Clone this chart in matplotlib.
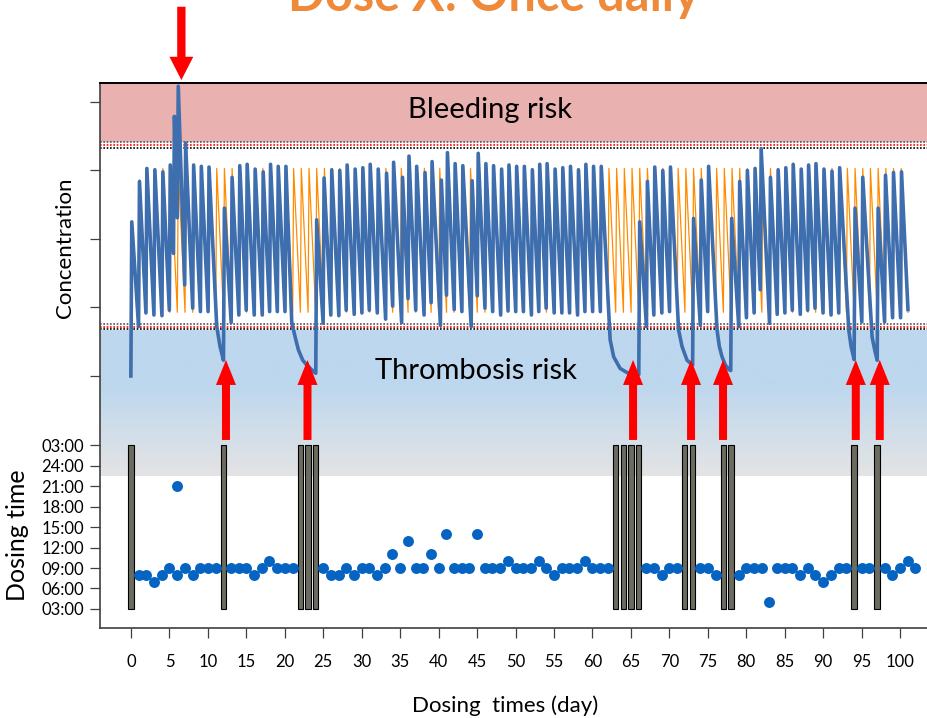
import numpy as np
import matplotlib.pyplot as plt
from matplotlib.patches import FancyArrow

plt.rcParams['font.family'] = ['Lato', 'DejaVu Sans']

####### DATA #######
# every dose taken: study day and clock hour
dose_day = [1, 2, 3, 4, 5, 6, 6, 7, 8, 9, 10, 11,
            13, 14, 15, 16, 17, 18, 19, 20, 21,
            25, 26, 27, 28, 29, 30, 31, 32, 33, 34, 35, 36, 37, 38, 39, 40,
            41, 42, 43, 44, 45, 46, 47, 48, 49, 50, 51, 52, 53, 54, 55, 56,
            57, 58, 59, 60, 61, 62,
            67, 68, 69, 70, 71,
            74, 75, 76,
            79, 80, 81, 82, 83, 84, 85, 86, 87, 88, 89, 90, 91, 92, 93,
            95, 96,
            98, 99, 100, 101, 102]
dose_hour = [8, 8, 7, 8, 9, 8, 21, 9, 8, 9, 9, 9,
             9, 9, 9, 8, 9, 10, 9, 9, 9,
             9, 8, 8, 9, 8, 9, 9, 8, 9, 11, 9, 13, 9, 9, 11, 9,
             14, 9, 9, 9, 14, 9, 9, 9, 10, 9, 9, 9, 10, 9, 8, 9,
             9, 9, 10, 9, 9, 9,
             9, 9, 8, 9, 9,
             9, 9, 8,
             8, 9, 9, 9, 4, 9, 9, 9, 8, 9, 8, 7, 8, 9, 9,
             9, 9,
             9, 8, 9, 10, 9]

# days with no dose
missed_day = [0, 12, 22, 23, 24, 63, 64, 65, 66, 72, 73, 77, 78, 94, 97]

# concentration just before / just after each dose (last dose closes the trace)
trough_conc = [0.00, 0.72, 0.92, 0.89, 0.88, 0.96, 1.79, 2.31, 1.33, 0.99, 0.94, 0.94,
               0.23, 0.78, 0.89, 0.96, 0.89, 0.89, 0.94, 0.94, 0.94,
               0.04, 0.77, 0.89, 0.88, 0.96, 0.90, 0.92, 0.96, 0.92, 0.83, 1.02, 0.78,
               1.13, 0.96, 0.89, 1.07, 0.74, 1.18, 0.97, 0.94, 0.72, 1.17, 0.99, 0.94,
               0.89, 0.95, 0.94, 0.94, 0.89, 0.94, 0.99, 0.92, 0.92, 0.92, 0.89, 0.94,
               0.94, 0.94,
               0.02, 0.72, 0.89, 0.92, 0.94,
               0.16, 0.74, 0.94,
               0.08, 0.72, 0.85, 0.92, 1.26, 0.77, 0.90, 0.92, 0.96, 0.90, 0.96, 0.99,
               0.92, 0.89, 0.92,
               0.24, 0.79,
               0.23, 0.79, 0.85, 0.85]
peak_conc = [2.25, 2.84, 3.03, 3.01, 2.98, 3.08, 3.79, 4.23, 3.40, 3.08, 3.06, 3.05,
             2.45, 2.90, 3.07, 3.09, 3.02, 2.98, 3.09, 3.06, 3.06,
             2.28, 2.89, 3.01, 3.00, 3.08, 3.02, 3.04, 3.09, 3.02, 2.96, 3.12, 2.90,
             3.21, 3.06, 2.97, 3.13, 2.86, 3.26, 3.10, 3.07, 2.85, 3.25, 3.10, 3.07,
             3.02, 3.08, 3.06, 3.06, 3.01, 3.09, 3.10, 3.02, 3.04, 3.06, 3.01, 3.09,
             3.06, 3.06,
             2.25, 2.84, 3.05, 3.00, 3.05,
             2.30, 2.86, 3.06,
             2.30, 2.84, 3.00, 3.03, 3.32, 2.90, 3.01, 3.04, 3.09, 3.02, 3.08, 3.10,
             3.02, 2.99, 3.04,
             2.45, 2.90,
             2.45, 2.93, 2.97, 2.98]
trace_end_conc = 0.97

# decay after missed doses (day + fraction, concentration)
tail_time = [12.50, 12.93,
             22.25, 22.69, 23.12, 23.68, 24.21, 24.85,
             63.65, 64.11, 64.95, 65.85, 66.75,
             72.55, 73.00, 73.65,
             77.55, 77.85, 78.20, 78.63, 79.15,
             94.68, 94.98,
             97.71, 98.05]
tail_conc = [0.72, 0.43,
             0.79, 0.57, 0.38, 0.23, 0.16, 0.09,
             0.53, 0.28, 0.11, 0.05, 0.03,
             0.67, 0.43, 0.23,
             0.67, 0.43, 0.28, 0.16, 0.09,
             0.67, 0.43,
             0.57, 0.38]

# reference regimen: one dose every day at 09:00
ref_day = list(range(1, 103))
ref_trough = [0.00, 0.72] + [0.93] * 99
ref_peak = [2.25, 2.86] + [3.03] * 99
ref_end_conc = 0.93

# arrows flagging missed doses and the overdose peak
alert_day = [12.35, 22.95, 65.28, 72.82, 76.98, 94.24, 97.36]
overdose_day = 6.55

bleed_level = 3.37
thromb_level = 0.72
tick_hours = [3, 6, 9, 12, 15, 18, 21, 24, 27]
tick_hour_labels = ['03:00', '06:00', '09:00', '12:00', '15:00',
                    '18:00', '21:00', '24:00', '03:00']

####### STYLE #######
TRACE_SHIFT = 1.35   # trace is drawn this many days ahead of the dosing log
RISE = 0.12          # absorption time from trough to peak, days
BLUE = '#3E6EAD'
ORANGE = '#FF8C00'
DOT = '#0563C1'


def sawtooth(times, troughs, peaks, end_time, end_conc, extra_t=(), extra_c=()):
    times = np.asarray(times, float) - TRACE_SHIFT
    t = np.concatenate([times, times + RISE, [end_time - TRACE_SHIFT],
                        np.asarray(extra_t, float) - TRACE_SHIFT])
    c = np.concatenate([troughs, peaks, [end_conc], extra_c])
    order = np.argsort(t, kind='stable')
    return t[order], c[order]


fig = plt.figure(figsize=(9.27, 7.18), dpi=100)
rect = [100 / 927, 90 / 718, 827 / 927, 545 / 718]
ax = fig.add_axes(rect)
axd = fig.add_axes(rect)
axd.patch.set_alpha(0)

xlim = (-4.03, 103.5)

####### CONCENTRATION PANEL #######
ax.set_xlim(*xlim)
ax.set_ylim(-3.679, 4.277)

ax.axhspan(bleed_level + 0.05, 4.3, color='#E9B1B0', lw=0, zorder=0)
# thrombosis band fades from blue to grey at its lower edge
grad = np.linspace(0, 1, 200)[:, None]
top_rgb = np.array([0xBD, 0xD7, 0xEE]) / 255
bot_rgb = np.array([0xE4, 0xE4, 0xE4]) / 255
mix = np.clip((grad - 0.38) / 0.62, 0, 1)
img = top_rgb[None, None, :] * (1 - mix[:, :, None]) + bot_rgb[None, None, :] * mix[:, :, None]
ax.imshow(img, extent=(xlim[0], xlim[1], -1.46, thromb_level - 0.055),
          aspect='auto', origin='upper', zorder=0)

for lvl in (bleed_level, thromb_level):
    ax.axhline(lvl + 0.04, color='#555555', lw=1.2, ls=(0, (1, 1)), zorder=1)
    ax.axhline(lvl, color='red', lw=1.2, ls=(0, (1, 1)), zorder=1)
    ax.axhline(lvl - 0.04, color='black', lw=1.2, ls=(0, (1, 1)), zorder=1)

ref_t, ref_c = sawtooth(np.array(ref_day[:-1]) + 9 / 24, ref_trough, ref_peak,
                        ref_day[-1] + 9 / 24, ref_end_conc)
ax.plot(ref_t, ref_c, color=ORANGE, lw=0.9, zorder=2)

dose_time = np.array(dose_day) + np.array(dose_hour) / 24
pt_t, pt_c = sawtooth(dose_time[:-1], trough_conc, peak_conc, dose_time[-1],
                      trace_end_conc, tail_time, tail_conc)
ax.plot(pt_t, pt_c, color=BLUE, lw=2.6, solid_joinstyle='round', zorder=3)

ax.text(46.7, 3.88, 'Bleeding risk', ha='center', va='center', fontsize=21, zorder=4)
ax.text(44.9, 0.07, 'Thrombosis risk', ha='center', va='center', fontsize=21, zorder=4)

for d in alert_day:
    ax.add_patch(FancyArrow(d, -0.934, 0, 1.168, width=1.04, head_width=2.6,
                            head_length=0.365, length_includes_head=True,
                            color='red', lw=0, zorder=5))
ax.add_patch(FancyArrow(overdose_day, 5.39, 0, -1.07, width=1.08, head_width=3.1,
                        head_length=0.34, length_includes_head=True,
                        color='red', lw=0, zorder=5, clip_on=False))

ax.set_yticks([0, 1, 2, 3, 4])
ax.set_yticklabels([])
ax.set_xticks(range(0, 101, 5))
ax.tick_params(axis='both', direction='out', length=7.5, width=0.9, color='#404040',
               labelsize=12, pad=11)
ax.spines['right'].set_visible(False)
ax.spines['top'].set_color('black')
ax.spines['top'].set_linewidth(1.4)
ax.spines['left'].set_color('#404040')
ax.spines['bottom'].set_color('#404040')
ax.spines['left'].set_linewidth(1.2)
ax.spines['bottom'].set_linewidth(1.2)

####### DOSING TIME PANEL #######
axd.set_xlim(*xlim)
axd.set_ylim(0.219, 79.98)
axd.bar(missed_day, 24, bottom=3, width=0.69, color='#6B6B60',
        edgecolor='black', lw=0.8, zorder=2)
axd.scatter(dose_day, dose_hour, s=62, color=DOT, lw=0, zorder=3)
axd.set_yticks(tick_hours)
axd.set_yticklabels(tick_hour_labels)
axd.set_xticks([])
axd.tick_params(axis='y', direction='out', length=7.5, width=0.9, color='#404040',
                labelsize=12, pad=4)
for s in axd.spines.values():
    s.set_visible(False)

####### LABELS #######
fig.text(494 / 927, 1 - 11 / 718, 'Dose X: Once daily', ha='center', va='baseline',
         fontsize=35, fontweight='bold', color='#EF8A3A')
fig.text(65 / 927, 1 - 248 / 718, 'Concentration', rotation=90, ha='center',
         va='center', fontsize=16)
fig.text(18 / 927, 1 - 535 / 718, 'Dosing time', rotation=90, ha='center',
         va='center', fontsize=18)
fig.text(505 / 927, 1 - 706 / 718, 'Dosing  times (day)', ha='center', va='center',
         fontsize=16)

fig.savefig('out.png', dpi=100)
